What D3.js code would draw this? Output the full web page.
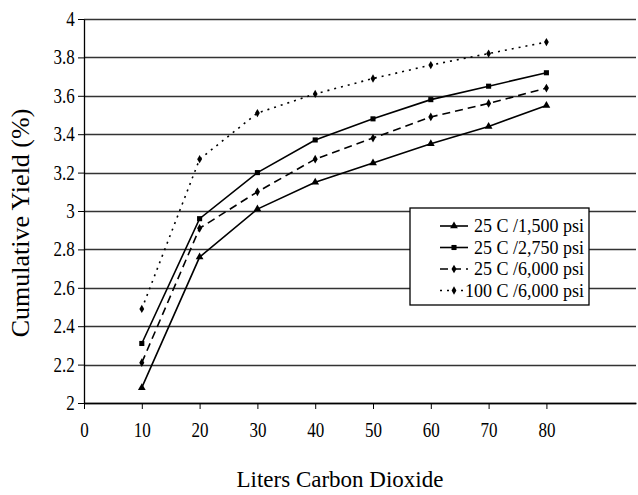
<!DOCTYPE html>
<html>
<head>
<meta charset="utf-8">
<script src="https://cdn.jsdelivr.net/npm/d3@7"></script>
<style>
  body { margin: 0; background: #fff; }
</style>
</head>
<body>
<div id="chart"></div>
<script>
// data
const liters = [10, 20, 30, 40, 50, 60, 70, 80]
const yield1500 = [2.08, 2.76, 3.01, 3.15, 3.25, 3.35, 3.44, 3.55]
const yield2750 = [2.31, 2.96, 3.20, 3.37, 3.48, 3.58, 3.65, 3.72]
const yield6000 = [2.21, 2.91, 3.10, 3.27, 3.38, 3.49, 3.56, 3.64]
const yield100C = [2.49, 3.27, 3.51, 3.61, 3.69, 3.76, 3.82, 3.88]
const seriesNames = ['25 C /1,500 psi', '25 C /2,750 psi', '25 C /6,000 psi', '100 C /6,000 psi']
const xTicks = [0, 10, 20, 30, 40, 50, 60, 70, 80]
const yTicks = [2, 2.2, 2.4, 2.6, 2.8, 3, 3.2, 3.4, 3.6, 3.8, 4]

const width = 638, height = 495
const margin = {top: 19, right: 2, bottom: 92, left: 84}
const font = "'Liberation Serif'"

const series = [
  {name: seriesNames[0], values: yield1500, dash: null, symbol: d3.symbolTriangle, size: 26},
  {name: seriesNames[1], values: yield2750, dash: null, symbol: d3.symbolSquare, size: 26},
  {name: seriesNames[2], values: yield6000, dash: '8,5', symbol: d3.symbolDiamond, size: 22},
  {name: seriesNames[3], values: yield100C, dash: '2,5', symbol: d3.symbolDiamond, size: 20}
]

const svg = d3.select('#chart').append('svg')
  .attr('width', width)
  .attr('height', height)
  .style('font-family', font)

const x = d3.scaleLinear()
  .domain([0, 95.5])
  .range([margin.left, width - margin.right])

const y = d3.scaleLinear()
  .domain([2, 4])
  .range([height - margin.bottom, margin.top])

// gridlines
svg.append('g')
  .selectAll('line')
  .data(yTicks)
  .enter().append('line')
    .attr('x1', margin.left)
    .attr('x2', width - margin.right)
    .attr('y1', d => Math.round(y(d)) + 0.5)
    .attr('y2', d => Math.round(y(d)) + 0.5)
    .attr('stroke', '#333')
    .attr('stroke-width', 1.3)

// y axis
const yAxis = svg.append('g')
  .attr('transform', 'translate(' + margin.left + ',0)')
  .call(d3.axisLeft(y).tickValues(yTicks).tickSize(6).tickSizeOuter(0).tickPadding(5).tickFormat(d3.format('~g')))
yAxis.attr('font-family', null).style('font-family', font)
yAxis.select('.domain').attr('stroke', '#000').attr('stroke-width', 1.3)
yAxis.selectAll('line').attr('stroke', '#000')
yAxis.selectAll('text')
  .attr('font-size', 20)
  .style('font-family', font)
  .attr('transform', 'scale(0.85,1)')

// x axis
const xAxis = svg.append('g')
  .attr('transform', 'translate(0,' + (height - margin.bottom) + ')')
  .call(d3.axisBottom(x).tickValues(xTicks).tickSize(6).tickSizeOuter(0).tickPadding(14).tickFormat(d3.format('d')))
xAxis.attr('font-family', null).style('font-family', font)
xAxis.select('.domain').attr('stroke', '#000').attr('stroke-width', 1.3)
xAxis.selectAll('line').attr('stroke', '#000')
xAxis.selectAll('text')
  .attr('font-size', 20)
  .style('font-family', font)
  .attr('transform', 'scale(0.85,1)')

// axis titles
svg.append('text')
  .attr('transform', 'translate(29,' + ((margin.top + height - margin.bottom) / 2 + 12) + ') rotate(-90)')
  .attr('text-anchor', 'middle')
  .attr('font-size', 26)
  .style('font-family', font)
  .text('Cumulative Yield (%)')

svg.append('text')
  .attr('x', 340)
  .attr('y', 487)
  .attr('text-anchor', 'middle')
  .attr('font-size', 23)
  .style('font-family', font)
  .text('Liters Carbon Dioxide')

// lines + markers
const line = d3.line()
  .x((d, i) => x(liters[i]))
  .y(d => y(d))

series.forEach(s => {
  svg.append('path')
    .datum(s.values)
    .attr('fill', 'none')
    .attr('stroke', '#000')
    .attr('stroke-width', 1.6)
    .attr('stroke-dasharray', s.dash)
    .attr('d', line)

  svg.append('g')
    .selectAll('path')
    .data(s.values)
    .enter().append('path')
      .attr('transform', (d, i) => 'translate(' + x(liters[i]) + ',' + y(d) + ')')
      .attr('d', d3.symbol().type(s.symbol).size(s.size))
      .attr('fill', '#000')
})

// legend
const lg = svg.append('g').attr('transform', 'translate(410,208)')
lg.append('rect')
  .attr('width', 179)
  .attr('height', 97)
  .attr('fill', '#fff')
  .attr('stroke', '#000')
  .attr('stroke-width', 1.3)

const item = lg.selectAll('.item')
  .data(series)
  .enter().append('g')
    .attr('class', 'item')
    .attr('transform', (d, i) => 'translate(0,' + (18 + i * 21.5) + ')')

item.append('line')
  .attr('x1', 30).attr('x2', 58)
  .attr('y1', 0).attr('y2', 0)
  .attr('stroke', '#000')
  .attr('stroke-width', 1.6)
  .attr('stroke-dasharray', d => d.dash)

item.append('path')
  .attr('transform', 'translate(44,0)')
  .attr('d', d => d3.symbol().type(d.symbol).size(d.size)())
  .attr('fill', '#000')

item.append('text')
  .attr('x', 174)
  .attr('y', 6)
  .attr('text-anchor', 'end')
  .attr('font-size', 18)
  .style('font-family', font)
  .text(d => d.name)
</script>
</body>
</html>
